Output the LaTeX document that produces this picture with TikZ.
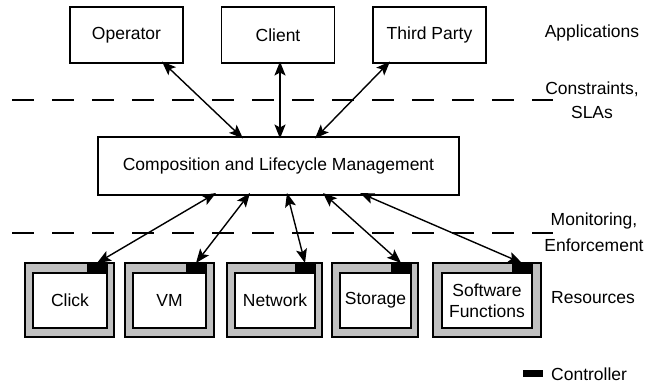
\documentclass[tikz,border=0pt]{standalone}
\usepackage{fontspec}
\setmainfont{Liberation Sans}
\usetikzlibrary{arrows.meta}
\definecolor{resgray}{RGB}{192,192,192}
\begin{document}
\begin{tikzpicture}[x=1pt,y=-1pt,
  font=\fontsize{17.5}{21}\selectfont,
  box/.style={draw, line width=1.6pt, fill=white, inner sep=0pt, outer sep=0pt},
  appbox/.style={box, minimum width=113pt, minimum height=56pt},
  outerbox/.style={draw, line width=1.6pt, fill=resgray, inner sep=0pt, outer sep=0pt, minimum height=74pt},
  innerbox/.style={box, minimum height=55pt, align=center},
  ctl/.style={fill=black, draw=black, line width=0.5pt, inner sep=0pt, outer sep=0pt, minimum width=20pt, minimum height=10pt},
  lbl/.style={align=center, inner sep=0pt},
  link/.style={line width=1.4pt, {Stealth[length=14pt,width=11pt,inset=3pt]}-{Stealth[length=14pt,width=11pt,inset=3pt]}},
  sep/.style={line width=1.3pt, dash pattern=on 22pt off 18pt}
]
\useasboundingbox (0,0) rectangle (662,387);

% applications
\node[appbox] (op) at (126.5,35) {Operator};
\node[appbox] (cl) at (278,35) {Client};
\node[appbox] (tp) at (429.5,35) {Third Party};

% composition
\node[box, minimum width=361pt, minimum height=58pt] (comp) at (278.5,166) {Composition and Lifecycle Management};

% resources
\node[outerbox, minimum width=89pt] (o1) at (69.5,300) {};
\node[innerbox, minimum width=74pt] (r1) at (70,300.5) {Click};
\node[ctl] (k1) at (97,268) {};

\node[outerbox, minimum width=89pt] (o2) at (169.5,300) {};
\node[innerbox, minimum width=73pt] (r2) at (169.5,300.5) {VM};
\node[ctl] (k2) at (196,268) {};

\node[outerbox, minimum width=95pt] (o3) at (274.5,300) {};
\node[innerbox, minimum width=80pt] (r3) at (275,300.5) {Network};
\node[ctl] (k3) at (305,268) {};

\node[outerbox, minimum width=86pt] (o4) at (375,300) {};
\node[innerbox, minimum width=71pt] (r4) at (375.5,300.5) {Storage};
\node[ctl] (k4) at (401,268) {};

\node[outerbox, minimum width=108pt] (o5) at (487,300) {};
\node[innerbox, minimum width=90pt] (r5) at (487,300.5) {Software\\Functions};
\node[ctl] (k5) at (522,268) {};

% separators
\coordinate (d1a) at (12,100);
\coordinate (d1b) at (553,100);
\coordinate (d2a) at (12,233);
\coordinate (d2b) at (553,233);
\draw[sep] (d1a) -- (d1b);
\draw[sep] (d2a) -- (d2b);

% side labels
\node[lbl] (lapp) at (592,33) {Applications};
\node[lbl] (lcon) at (592,89) {Constraints,};
\node[lbl] (lsla) at (592,112) {SLAs};
\node[lbl] (lmon) at (594,221) {Monitoring,};
\node[lbl] (lenf) at (594,245) {Enforcement};
\node[lbl] (lres) at (593,298) {Resources};

% legend
\node[fill=black, inner sep=0pt, minimum width=20pt, minimum height=7pt] (legk) at (533,373.5) {};
\node[lbl, anchor=west] (legt) at (551,374) {Controller};

% top connectors
\draw[link] ([xshift=-21pt,yshift=1.5pt]op.south east) -- ([xshift=-35.5pt,yshift=-1.5pt]comp.north);
\draw[link] ([xshift=2pt,yshift=1.5pt]cl.south) -- ([xshift=1.5pt,yshift=-1.5pt]comp.north);
\draw[link] ([xshift=17pt,yshift=1.5pt]tp.south west) -- ([xshift=36.5pt,yshift=-1.5pt]comp.north);

% bottom connectors
\draw[link] ([xshift=-62.5pt,yshift=2pt]comp.south) -- (k1.north);
\draw[link] ([xshift=-28.5pt,yshift=2pt]comp.south) -- (k2.north);
\draw[link] ([xshift=8.5pt,yshift=2pt]comp.south) -- (k3.north);
\draw[link] ([xshift=44.5pt,yshift=2pt]comp.south) -- (k4.north);
\draw[link] ([xshift=81.5pt,yshift=2pt]comp.south) -- (k5.north);
\end{tikzpicture}
\end{document}
